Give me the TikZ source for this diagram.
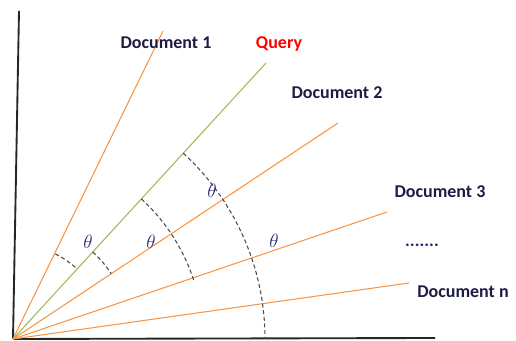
\documentclass[tikz,border=0pt]{standalone}
\usepackage{fontspec}
\setmainfont{Carlito}
\usetikzlibrary{positioning, calc}

\definecolor{docorange}{HTML}{F79646}
\definecolor{querygreen}{HTML}{9BBB59}
\definecolor{labelnavy}{HTML}{1C1C45}
\definecolor{thetablue}{HTML}{2A2A70}

\begin{document}
\begin{tikzpicture}[
    x=0.75pt, y=0.75pt,
    axis/.style={
        draw=black!85,
        line width=1.4pt
    },
    docvec/.style={
        draw=docorange,
        line width=0.8pt
    },
    queryvec/.style={
        draw=querygreen,
        line width=0.8pt
    },
    anglearc/.style={
        draw=black!70,
        line width=0.8pt,
        dash pattern=on 3pt off 2pt
    },
    doclabel/.style={
        font=\fontsize{13.5}{15}\selectfont\bfseries,
        text=labelnavy,
        inner sep=0pt
    },
    thetalabel/.style={
        font=\fontsize{15}{17}\selectfont,
        text=thetablue,
        inner sep=0pt
    }
]
\useasboundingbox (0,0) rectangle (516,341);

% origin and axes
\coordinate (origin) at (13,2);
\coordinate (ytop) at (19,330);
\coordinate (xend) at (435,3);
\draw[axis] (origin) -- (ytop);
\draw[axis] (origin) -- (xend);

% vector end points
\coordinate (doc1) at (163,310);
\coordinate (query) at (266,278);
\coordinate (doc2) at (338,218);
\coordinate (doc3) at (387,129);
\coordinate (docn) at (409,58);

% vectors
\draw[docvec] (origin) -- (doc1);
\draw[queryvec] (origin) -- (query);
\draw[docvec] (origin) -- (doc2);
\draw[docvec] (origin) -- (doc3);
\draw[docvec] (origin) -- (docn);

% angle arcs between query and documents
\draw[anglearc] ([shift={(63.5:95)}]origin) arc (63.5:47.5:95);
\draw[anglearc] ([shift={(47.5:118)}]origin) arc (47.5:33.6:118);
\draw[anglearc] ([shift={(47.5:190)}]origin) arc (47.5:17.5:190);
\draw[anglearc] ([shift={(47.5:252)}]origin) arc (47.5:0:252);

% theta labels
\node[thetalabel] (theta1) at (88,99) {$\theta$};
\node[thetalabel] (theta2) at (151,99) {$\theta$};
\node[thetalabel] (theta3) at (212,150) {$\theta$};
\node[thetalabel] (theta4) at (274,100) {$\theta$};

% vector labels
\node[doclabel] (lbl-doc1) at (166,298) {Document 1};
\node[doclabel, text=red] (lbl-query) at (279,297) {Query};
\node[doclabel] (lbl-doc2) at (337,248) {Document 2};
\node[doclabel] (lbl-doc3) at (440,149) {Document 3};
\node[doclabel, text=thetablue] (lbl-dots) at (422,96) {.......};
\node[doclabel] (lbl-docn) at (463,49) {Document n};

\end{tikzpicture}
\end{document}
